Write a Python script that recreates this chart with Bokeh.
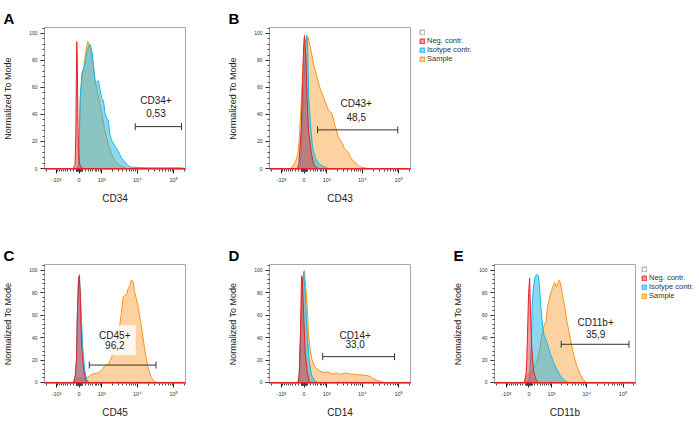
import numpy as np
from bokeh.plotting import figure
from bokeh.layouts import row, column
from bokeh.models import (Range1d, FixedTicker, SingleIntervalTicker, Label,
                          Legend, LegendItem)
from bokeh.embed import file_html
from bokeh.resources import INLINE

FONT = "Liberation Sans"

# ---------------- data (x in biexponential display units) ----------------
A_neg_x = [-0.57, 0.22, 0.27, 0.29, 0.305, 0.315, 0.33, 0.345, 0.36, 0.39, 0.43, 0.47, 3.30]
A_neg_y = [0, 0, 3, 25, 70, 94, 80, 40, 15, 4, 1, 0, 0]
A_iso_x = [-0.57, 0.30, 0.34, 0.37, 0.41, 0.46, 0.51, 0.55, 0.59, 0.64, 0.68, 0.73, 0.78, 0.82,
           0.86, 0.91, 0.95, 1.00, 1.05, 1.09, 1.14, 1.18, 1.22, 1.27, 1.36, 1.45, 1.54, 1.63,
           1.72, 1.81, 2.20, 2.80, 3.16, 3.30]
A_iso_y = [0, 0, 1, 4, 53, 71, 74, 80, 85, 91, 92, 87, 75, 63, 64, 65, 59, 52, 50, 41, 37, 36,
           26, 21, 17, 13, 8, 5, 2, 1, 0.5, 0.5, 0.5, 0]
A_smp_x = [-0.57, 0.30, 0.34, 0.37, 0.41, 0.46, 0.51, 0.55, 0.59, 0.62, 0.68, 0.73, 0.78, 0.82,
           0.91, 1.00, 1.09, 1.18, 1.27, 1.36, 1.45, 1.59, 1.70, 3.30]
A_smp_y = [0, 0, 1, 4, 48, 69, 75, 84, 91, 94, 91, 84, 75, 65, 53, 41, 28, 18, 11, 6, 3, 1, 0, 0]

B_neg_x = [-0.57, 0.20, 0.235, 0.30, 0.34, 0.37, 0.39, 0.43, 0.46, 0.50, 0.58, 0.64, 0.72, 0.80, 3.30]
B_neg_y = [0, 0, 3.5, 28, 65, 92, 98.5, 82, 53, 28, 11, 3.5, 0.5, 0, 0]
B_iso_x = [-0.57, 0.22, 0.28, 0.34, 0.40, 0.43, 0.46, 0.475, 0.486, 0.505, 0.57, 0.61, 0.68,
           0.78, 0.95, 1.05, 3.30]
B_iso_y = [0, 0, 3, 41, 78, 95, 98.5, 90, 77.5, 53, 28, 16, 8.4, 3.5, 1, 0, 0]
B_smp_x = [-0.57, 0.00, 0.05, 0.14, 0.21, 0.25, 0.31, 0.35, 0.40, 0.45, 0.49, 0.55, 0.64, 0.73,
           0.82, 0.91, 0.95, 1.05, 1.14, 1.23, 1.32, 1.41, 1.49, 1.59, 1.68, 1.77, 1.90, 2.03,
           2.15, 3.30]
B_smp_y = [0, 0, 1, 4.7, 11, 23, 53, 77, 92, 97, 97, 90, 77.5, 68, 59, 53, 50, 43, 41, 32, 23,
           19.5, 14.6, 12, 7, 4.7, 1.5, 0.5, 0, 0]

C_neg_x = [-0.57, 0.20, 0.235, 0.28, 0.31, 0.33, 0.36, 0.38, 0.41, 0.43, 0.46, 0.51, 0.57, 0.62, 3.30]
C_neg_y = [0, 0, 0.5, 7.4, 22, 59, 89, 95, 81, 52, 27, 10, 1.5, 0, 0]
C_iso_x = [-0.57, 0.20, 0.235, 0.28, 0.31, 0.33, 0.36, 0.39, 0.44, 0.48, 0.53, 0.59, 0.65, 3.30]
C_iso_y = [0, 0, 0.5, 7, 21, 57, 88, 96, 59, 32, 12, 2.5, 0, 0]
C_smp_x = [-0.57, 0.20, 0.24, 0.30, 0.36, 0.45, 0.52, 0.59, 0.73, 0.91, 1.00, 1.09, 1.18, 1.27,
           1.36, 1.45, 1.54, 1.59, 1.68, 1.72, 1.77, 1.81, 1.86, 1.90, 1.99, 2.08, 2.17, 2.26,
           2.35, 2.44, 2.50, 3.30]
C_smp_y = [0, 0, 1, 3, 4, 4, 3.7, 3.7, 7.4, 8.6, 11, 15, 16, 22, 32, 39.5, 62, 76.5, 78, 83, 86,
           91, 90, 81.5, 69, 52, 32, 15, 5, 1, 0, 0]

D_neg_x = [-0.57, 0.20, 0.22, 0.25, 0.28, 0.31, 0.33, 0.37, 0.41, 0.47, 0.52, 0.56, 3.30]
D_neg_y = [0, 0, 0.5, 8.6, 46, 95, 93, 58, 26, 8.6, 1.2, 0, 0]
D_iso_x = [-0.57, 0.20, 0.24, 0.29, 0.32, 0.37, 0.41, 0.46, 0.52, 0.59, 0.68, 0.75, 3.30]
D_iso_y = [0, 0, 3.7, 46, 83, 98.7, 78, 46, 18.5, 6, 1.2, 0, 0]
D_smp_x = [-0.57, 0.20, 0.24, 0.29, 0.32, 0.39, 0.46, 0.50, 0.55, 0.59, 0.68, 0.82, 0.95, 1.02,
           1.09, 1.18, 1.27, 1.34, 1.41, 1.50, 1.59, 1.68, 1.77, 1.86, 1.95, 2.13, 2.26, 2.40,
           2.58, 3.30]
D_smp_y = [0, 0, 3.7, 46, 83, 99.5, 70, 43, 28, 21, 13.6, 10, 8.6, 9.5, 8.6, 7.4, 8.5, 7.6, 7.4,
           8.4, 8, 7.2, 7.4, 6.9, 6.7, 6.2, 3.7, 1.7, 0, 0]

E_neg_x = [-0.57, 0.22, 0.26, 0.31, 0.34, 0.37, 0.40, 0.42, 0.46, 0.51, 0.58, 0.65, 3.32]
E_neg_y = [0, 0, 0.5, 10, 42, 79, 93, 67, 30, 10, 2.5, 0, 0]
E_iso_x = [-0.57, 0.30, 0.38, 0.41, 0.44, 0.47, 0.50, 0.55, 0.59, 0.64, 0.68, 0.71, 0.76, 0.80,
           0.89, 0.98, 1.07, 1.16, 1.25, 1.34, 1.43, 1.50, 3.32]
E_iso_y = [0, 0, 2, 10, 30, 67, 84, 94, 96, 95, 81.5, 67, 49, 42, 34.6, 24.7, 17, 11, 6, 2.5,
           0.3, 0, 0]
E_smp_x = [-0.57, 0.25, 0.31, 0.40, 0.49, 0.55, 0.62, 0.68, 0.73, 0.80, 0.85, 0.89, 0.94, 1.00,
           1.05, 1.09, 1.14, 1.21, 1.25, 1.30, 1.34, 1.39, 1.43, 1.52, 1.61, 1.70, 1.79, 1.88,
           1.97, 3.32]
E_smp_y = [0, 0, 5, 8.6, 12, 15, 20, 30, 41, 51, 54, 67, 74, 81.5, 86, 89, 85, 91, 89, 79, 72,
           63, 54, 39.5, 24.7, 15, 7.4, 2.5, 0, 0]

panel_letters = ["A", "B", "C", "D", "E"]
markers = ["CD34", "CD43", "CD45", "CD14", "CD11b"]
gate_names = ["CD34+", "CD43+", "CD45+", "CD14+", "CD11b+"]
gate_pcts = ["0,53", "48,5", "96,2", "33,0", "35,9"]
gate_x0 = [1.92, 0.75, 0.66, 0.89, 1.27]
gate_x1 = [3.19, 2.95, 2.49, 2.86, 3.14]
gate_y = [31, 28.6, 15.5, 23, 34]
label_x = [2.49, 1.81, 1.36, 1.78, 2.22]
label_y1 = [50, 48, 42, 42, 53]
label_y2 = [41, 38, 33, 34, 43]

series_names = ["Neg. contr.", "Isotype contr.", "Sample"]

major_vals = [-1000, 0, 1000, 10000, 100000]
major_text = ["-10³", "0", "10³", "10⁴", "10⁵"]


# biexponential display transform for axis ticks
def disp(v):
    return 0.38 + np.arcsinh(np.asarray(v, float) / 507.0) / np.log(10)


minor_vals = ([-2000] + list(range(-900, 0, 100)) + list(range(-90, 100, 10)) +
              list(range(100, 1000, 100)) + [k * 10 ** d for d in (3, 4) for k in range(2, 10)] +
              [200000])
major_pos = [float(round(v, 4)) for v in disp(major_vals)]
minor_pos = [float(v) for v in disp(minor_vals)]
overrides = {p: t for p, t in zip(major_pos, major_text)}

NEG_FILL, NEG_LINE = "#ec3a3a", "#e52228"
ISO_FILL, ISO_LINE = "#18b4e4", "#19b8ec"
SMP_FILL, SMP_LINE = "#f7941d", "#f7941d"
STYLES = [(NEG_FILL, 0.5, NEG_LINE), (ISO_FILL, 0.5, ISO_LINE), (SMP_FILL, 0.42, SMP_LINE)]

data = {
    "A": (A_neg_x, A_neg_y, A_iso_x, A_iso_y, A_smp_x, A_smp_y),
    "B": (B_neg_x, B_neg_y, B_iso_x, B_iso_y, B_smp_x, B_smp_y),
    "C": (C_neg_x, C_neg_y, C_iso_x, C_iso_y, C_smp_x, C_smp_y),
    "D": (D_neg_x, D_neg_y, D_iso_x, D_iso_y, D_smp_x, D_smp_y),
    "E": (E_neg_x, E_neg_y, E_iso_x, E_iso_y, E_smp_x, E_smp_y),
}

# geometry: width, height, left, right, top, bottom, x_end, y_range
geom = {
    "A": (225, 218, 42, 40, 27, 49, 3.30, (-0.74, 104.4)),
    "B": (190, 218, 42, 5, 27, 49, 3.30, (-0.74, 104.4)),
    "C": (225, 202, 42, 40, 25, 34, 3.30, (-0.9, 105.0)),
    "D": (225, 202, 42, 40, 25, 34, 3.30, (-0.9, 105.0)),
    "E": (187, 202, 41, 2, 25, 34, 3.32, (-0.9, 105.0)),
}


def make_panel(i):
    key = panel_letters[i]
    w, h, bl, br, bt, bb, xend, yr = geom[key]
    p = figure(width=w, height=h, output_backend="svg", toolbar_location=None,
               x_range=Range1d(-0.57, xend), y_range=Range1d(*yr),
               min_border_left=bl, min_border_right=br, min_border_top=bt,
               min_border_bottom=bb)
    p.xgrid.visible = False
    p.ygrid.visible = False
    p.outline_line_color = "#a8a8a8"
    p.background_fill_color = "white"
    p.border_fill_color = "white"

    # panel letter
    p.title.text = key
    p.title.align = "left"
    p.title.offset = -41
    p.title.standoff = 1
    p.title.text_font = FONT
    p.title.text_font_size = "15px"
    p.title.text_font_style = "bold"
    p.title.text_color = "black"

    nx, ny, ix, iy, sx, sy = data[key]
    p.patch(sx, sy, fill_color=SMP_FILL, fill_alpha=0.42, line_color=SMP_LINE, line_width=1)
    p.patch(ix, iy, fill_color=ISO_FILL, fill_alpha=0.5, line_color=ISO_LINE, line_width=1)
    p.patch(nx, ny, fill_color=NEG_FILL, fill_alpha=0.5, line_color=NEG_LINE, line_width=1)

    # white box behind the gate annotation
    p.rect(x=[label_x[i]], y=[(label_y1[i] + label_y2[i]) / 2], width=42, height=30,
           width_units="screen", height_units="screen", fill_color="white",
           fill_alpha=0.82, line_color=None)

    # gate bar
    p.segment(x0=[gate_x0[i]], y0=[gate_y[i]], x1=[gate_x1[i]], y1=[gate_y[i]],
              line_color="#333333", line_width=1)
    p.scatter(x=[gate_x0[i], gate_x1[i]], y=[gate_y[i], gate_y[i]], marker="dash",
              angle=np.pi / 2, size=7, line_color="#333333", line_width=1)

    for txt, yy in ((gate_names[i], label_y1[i]), (gate_pcts[i], label_y2[i])):
        p.add_layout(Label(x=label_x[i], y=yy, text=txt, text_align="center",
                           text_baseline="middle", text_font=FONT, text_font_size="10px",
                           text_color="#222222"))

    # x axis
    xa = p.xaxis[0]
    xa.ticker = FixedTicker(ticks=major_pos, minor_ticks=minor_pos)
    xa.major_label_overrides = overrides
    xa.major_label_text_font = FONT
    xa.major_label_text_font_size = "5.5px"
    xa.major_label_text_color = "#333333"
    xa.major_label_standoff = 3
    xa.major_tick_out = 4
    xa.major_tick_in = 0
    xa.minor_tick_out = 2
    xa.minor_tick_in = 0
    xa.axis_line_color = "#999999"
    xa.major_tick_line_color = "#222222"
    xa.minor_tick_line_color = "#444444"
    xa.axis_label = markers[i]
    xa.axis_label_text_font = FONT
    xa.axis_label_text_font_size = "10px"
    xa.axis_label_text_font_style = "normal"
    xa.axis_label_text_color = "#222222"
    xa.axis_label_standoff = 7

    ya = p.yaxis[0]
    ya.ticker = SingleIntervalTicker(interval=20, num_minor_ticks=5)
    ya.major_label_text_font = FONT
    ya.major_label_text_font_size = "5px"
    ya.major_label_text_color = "#333333"
    ya.major_label_standoff = 3
    ya.major_tick_out = 4
    ya.major_tick_in = 0
    ya.minor_tick_out = 2
    ya.minor_tick_in = 0
    ya.axis_line_color = "#999999"
    ya.major_tick_line_color = "#222222"
    ya.minor_tick_line_color = "#444444"
    ya.axis_label = "Normalized To Mode"
    ya.axis_label_text_font = FONT
    ya.axis_label_text_font_size = "9px"
    ya.axis_label_text_font_style = "normal"
    ya.axis_label_text_color = "#222222"
    ya.axis_label_standoff = 13
    return p


def make_legend(width, height, top, left):
    p = figure(width=width, height=height, output_backend="svg", toolbar_location=None,
               x_range=Range1d(0, 1), y_range=Range1d(0, 1), x_axis_location=None,
               y_axis_location=None, min_border_top=top, min_border_left=left,
               min_border_right=0, min_border_bottom=0)
    p.xgrid.visible = False
    p.ygrid.visible = False
    p.outline_line_color = None
    p.border_fill_color = "white"
    blank = p.patch([0, 0, 0], [0, 0, 0], fill_color="white", line_color="#999999",
                    visible=False)
    items = [LegendItem(label=" ", renderers=[blank])]
    for name, (fc, fa, lc) in zip(series_names, STYLES):
        r = p.patch([0, 0, 0], [0, 0, 0], fill_color=fc, fill_alpha=fa, line_color=lc,
                    visible=False)
        items.append(LegendItem(label=name, renderers=[r]))
    leg = Legend(items=items, location="top_left", padding=0, margin=0, spacing=0,
                 glyph_width=6, glyph_height=6, label_height=9, label_standoff=2,
                 label_text_font=FONT, label_text_font_size="7.5px",
                 label_text_color="#333333", border_line_color=None,
                 background_fill_alpha=0)
    p.add_layout(leg)
    return p


panels = [make_panel(i) for i in range(5)]
leg_b = make_legend(70, 218, 24, 4)
leg_e = make_legend(60, 202, 46, 4)
layout = column(row(panels[0], panels[1], leg_b),
                row(panels[2], panels[3], panels[4], leg_e))

open("out.html", "w").write(file_html(layout, INLINE))
